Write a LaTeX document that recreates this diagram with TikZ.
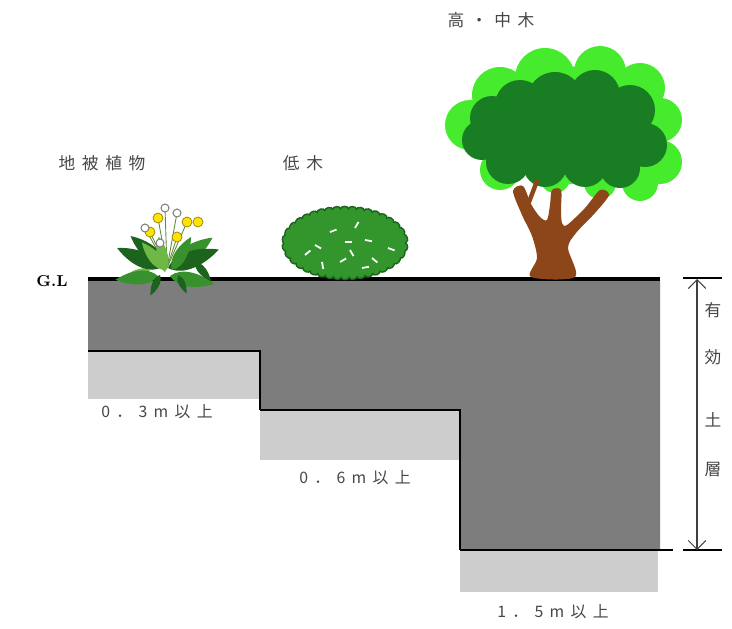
\documentclass[tikz,border=0pt]{standalone}
\usepackage{fontspec}
\newfontfamily\jp[LetterSpace=40]{Noto Sans CJK JP}
\usetikzlibrary{arrows.meta,decorations.pathmorphing}

\definecolor{soil}{RGB}{125,125,125}
\definecolor{subsoil}{RGB}{205,205,205}
\definecolor{leafdark}{RGB}{28,100,30}
\definecolor{leafmid}{RGB}{55,145,45}
\definecolor{leaflight}{RGB}{110,185,70}
\definecolor{bushgreen}{RGB}{50,150,45}
\definecolor{crownlight}{RGB}{70,235,45}
\definecolor{crowndark}{RGB}{25,125,35}
\definecolor{bark}{RGB}{140,70,25}
\definecolor{textgray}{RGB}{70,70,70}

\tikzset{
    jplabel/.style={font=\jp\fontsize{9.5}{11}\selectfont, text=textgray, inner sep=1pt},
    depth/.style={font=\jp\fontsize{9}{11}\selectfont, text=textgray, inner sep=1pt},
    leaf/.pic={
        \fill[pic actions] (0,0) .. controls (10,-11) and (30,-8) .. (45,0)
            .. controls (30,8) and (10,11) .. (0,0);
    }
}

\begin{document}
\begin{tikzpicture}[x=0.02cm, y=-0.02cm]
    \useasboundingbox (0,0) rectangle (732,628);

    % soil profile
    \fill[soil] (88,280) -- (660,280) -- (660,550) -- (460,550) -- (460,410)
        -- (260,410) -- (260,351) -- (88,351) -- cycle;
    \fill[subsoil] (88,351) rectangle (260,399);
    \fill[subsoil] (260,410) rectangle (460,460);
    \fill[subsoil] (460,550) rectangle (658,592);

    \draw[line width=1.8pt] (88,279) -- (660,279);
    \draw[line width=1.5pt] (88,351) -- (260,351) -- (260,410);
    \draw[line width=0.7pt] (260,410) -- (460,410) -- (460,550);
    \draw[line width=1.5pt] (460,550) -- (673,550);

    \node[font=\bfseries\fontsize{9}{11}\selectfont] (gl) at (52,281) {G.L};

    % ground cover
    \foreach \x/\y in {158/218, 187/222, 177/237, 150/232, 165/208, 177/213, 145/228, 160/243}
        \draw[leafmid!70!brown, line width=0.5pt] (167,268) -- (\x,\y);
    \pic[fill=leaflight, rotate=200, scale=0.7] at (150,270) {leaf};
    \pic[fill=leafdark, rotate=140, scale=1.0] at (165,265) {leaf};
    \pic[fill=leafmid, rotate=35, scale=1.1] at (172,266) {leaf};
    \pic[fill=leafdark, rotate=155, scale=1.05] at (160,268) {leaf};
    \pic[fill=leafmid, rotate=185, scale=0.95] at (158,276) {leaf};
    \pic[fill=leafdark, rotate=20, scale=1.2] at (168,268) {leaf};
    \pic[fill=leafmid, rotate=-10, scale=1.0] at (170,276) {leaf};
    \pic[fill=leaflight, rotate=100, scale=0.8] at (165,272) {leaf};
    \pic[fill=leafmid, rotate=60, scale=0.85] at (172,270) {leaf};
    \pic[fill=leaflight, rotate=130, scale=0.8] at (165,270) {leaf};
    \pic[fill=leafdark, rotate=245, scale=0.5] at (160,275) {leaf};
    \pic[fill=leafdark, rotate=295, scale=0.45] at (178,275) {leaf};
    \pic[fill=leafdark, rotate=-50, scale=0.55] at (195,262) {leaf};
    \foreach \x/\y in {158/218, 187/222, 198/222, 177/237, 150/232}
        \filldraw[fill=yellow!85!orange, draw=olive] (\x,\y) circle[radius=5];
    \foreach \x/\y in {165/208, 177/213, 145/228, 160/243}
        \filldraw[fill=white, draw=gray, line width=0.6pt] (\x,\y) circle[radius=4];

    % shrub
    \filldraw[fill=bushgreen, draw=leafdark, line width=0.8pt,
        decorate, decoration={bumps, segment length=9pt, amplitude=1.5pt}]
        (345,243) ellipse[x radius=60, y radius=34];
    \foreach \x/\y/\a in {315/245/30, 330/232/-20, 350/250/60, 365/240/10, 340/262/-30,
        372/258/40, 322/262/80, 355/228/-60, 388/248/20, 305/255/-40, 345/242/0, 362/268/-10}
        \draw[white, line width=1pt] (\x,\y) -- ++(\a:7);

    % tree crown
    \foreach \x/\y/\r in {470/125/25, 500/95/28, 545/78/30, 600/72/26, 640/88/25, 660/120/22,
        660/162/22, 640/183/18, 600/183/16, 555/178/15, 500/170/20, 560/125/60, 610/130/45}
        \fill[crownlight] (\x,\y) circle[radius=\r];
    \foreach \x/\y/\r in {482/140/20, 492/118/22, 520/105/25, 555/100/28, 595/95/25, 630/110/25,
        645/145/22, 620/168/20, 585/165/22, 545/165/22, 508/162/22, 560/130/45, 600/135/40, 520/135/35}
        \fill[crowndark] (\x,\y) circle[radius=\r];

    % trunk
    \fill[bark] plot[smooth cycle, tension=0.5] coordinates {
        (531,277) (537,258) (532,236) (522,215) (513,191) (523,186) (531,204)
        (540,217) (547,220) (550,205) (552,190) (561,190) (561,210) (562,223)
        (567,225) (585,208) (600,190) (609,195) (595,213) (576,233) (568,248)
        (575,277)};
    \draw[bark, line width=2.5pt, line cap=round] (529,202) -- (537,181);

    % labels
    \node[jplabel] (cover) at (102,163) {地被植物};
    \node[jplabel] (shrub) at (303,163) {低木};
    \node[jplabel] (tree) at (491,20) {高・中木};

    \node[depth] (d1) at (157,412) {0．3m以上};
    \node[depth] (d2) at (355,478) {0．6m以上};
    \node[depth] (d3) at (553,612) {1．5m以上};

    % effective soil depth
    \coordinate (dimtop) at (697,279);
    \coordinate (dimbot) at (697,550);
    \draw[line width=1.2pt] (683,278) -- (722,278);
    \draw[line width=1.2pt] (683,550) -- (722,550);
    \draw[{Straight Barb[length=5pt]}-{Straight Barb[length=5pt]}, black!75, line width=0.6pt]
        (dimtop) -- (dimbot);
    \node[jplabel] (e1) at (713,310) {有};
    \node[jplabel] (e2) at (713,357) {効};
    \node[jplabel] (e3) at (713,420) {土};
    \node[jplabel] (e4) at (713,470) {層};
\end{tikzpicture}
\end{document}
